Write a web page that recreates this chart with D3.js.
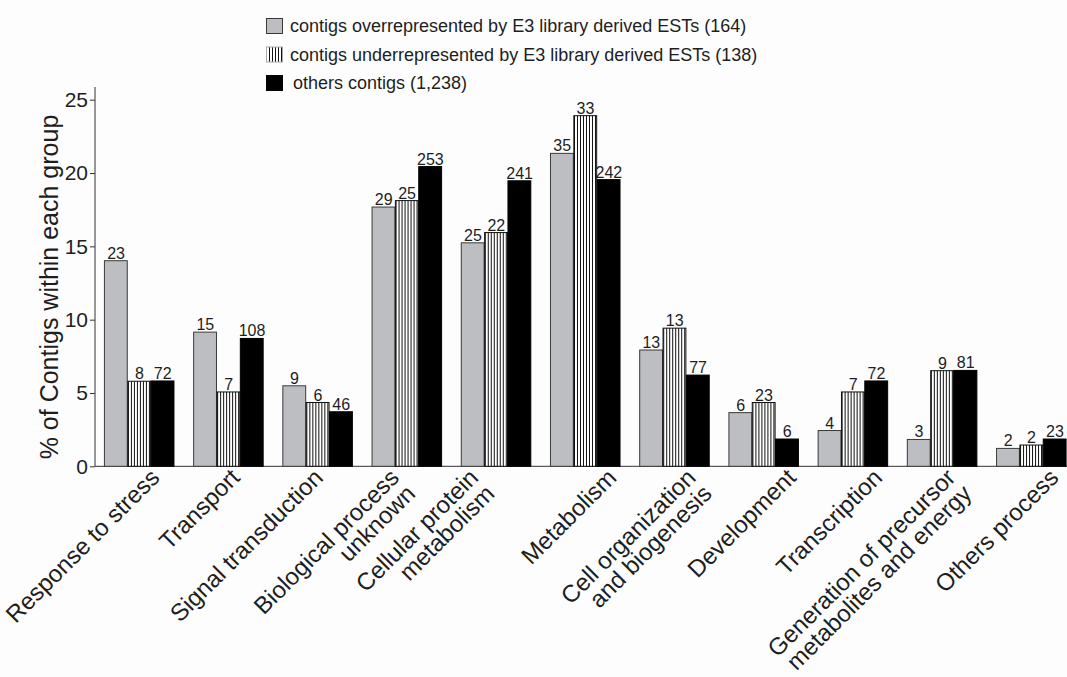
<!DOCTYPE html>
<html>
<head>
<meta charset="utf-8">
<script src="https://cdn.jsdelivr.net/npm/d3@7"></script>
<style>
  html, body { margin: 0; padding: 0; background: #fdfdfd; }
  svg { display: block; font-family: "Liberation Sans", Arial, sans-serif; }
</style>
</head>
<body>
<svg id="chart" width="1067" height="677"></svg>
<script>
// Biological process categories (x axis)
const categories = [
  "Response to stress",
  "Transport",
  "Signal transduction",
  "Biological process\nunknown",
  "Cellular protein\nmetabolism",
  "Metabolism",
  "Cell organization\nand biogenesis",
  "Development",
  "Transcription",
  "Generation of precursor\nmetabolites and energy",
  "Others process"
];

// Series names
const seriesNames = [
  "contigs overrepresented by E3 library derived ESTs (164)",
  "contigs underrepresented by E3 library derived ESTs (138)",
  "others contigs (1,238)"
];

// % of contigs within each group
const overPct  = [14.02, 9.15, 5.49, 17.68, 15.24, 21.34, 7.93, 3.66, 2.44, 1.83, 1.22];
const underPct = [5.80, 5.07, 4.35, 18.12, 15.94, 23.91, 9.42, 4.35, 5.07, 6.52, 1.45];
const otherPct = [5.82, 8.72, 3.72, 20.44, 19.47, 19.55, 6.22, 1.86, 5.82, 6.54, 1.86];

// Contig counts printed above the bars
const overCount  = [23, 15, 9, 29, 25, 35, 13, 6, 4, 3, 2];
const underCount = [8, 7, 6, 25, 22, 33, 13, 23, 7, 9, 2];
const otherCount = [72, 108, 46, 253, 241, 242, 77, 6, 72, 81, 23];

// Y axis ticks
const yTicks = [0, 5, 10, 15, 20, 25];

const svg = d3.select("#chart");
const textColor = "#1e1e1e";

// Fill pattern for the underrepresented series: thin vertical stripes
const defs = svg.append("defs");
const pat = defs.append("pattern")
  .attr("id", "vstripes")
  .attr("patternUnits", "userSpaceOnUse")
  .attr("width", 3).attr("height", 10);
pat.append("rect").attr("width", 3).attr("height", 10).attr("fill", "#ffffff");
pat.append("rect").attr("x", 0).attr("width", 1).attr("height", 10).attr("fill", "#111");

const fills = ["#bdbec2", "url(#vstripes)", "#000000"];
const strokes = ["#3a3a3a", "#111111", "#000000"];

const x0 = d3.scaleBand()
  .domain(categories)
  .range([95, 1075])
  .paddingInner(0.215)
  .paddingOuter(0.1);

const x1 = d3.scaleBand()
  .domain([0, 1, 2])
  .range([0, x0.bandwidth()])
  .padding(0);

const y = d3.scaleLinear().domain([0, 25]).range([466.3, 99.7]);

// Y axis
const yAxis = d3.axisLeft(y).tickValues(yTicks).tickSize(5).tickSizeOuter(0).tickPadding(2);
const gy = svg.append("g").attr("transform", "translate(95,0)").call(yAxis);
gy.select(".domain").remove();
gy.selectAll(".tick line").attr("stroke", "#333");
gy.selectAll(".tick text")
  .attr("font-size", 21)
  .attr("fill", textColor)
  .attr("font-family", "Liberation Sans, Arial, sans-serif");
gy.append("line")
  .attr("x1", 0).attr("x2", 0)
  .attr("y1", y(0)).attr("y2", 87)
  .attr("stroke", "#333").attr("stroke-width", 1);

// Baseline
svg.append("line")
  .attr("x1", 95).attr("x2", 1067)
  .attr("y1", y(0)).attr("y2", y(0))
  .attr("stroke", "#333").attr("stroke-width", 1);

// Y axis title
svg.append("text")
  .attr("transform", `translate(58,${(99.7 + 466.3) / 2 + 4}) rotate(-90)`)
  .attr("text-anchor", "middle")
  .attr("font-size", 25)
  .attr("fill", textColor)
  .text("% of Contigs within each group");

// Bars
const series = [
  { pct: overPct, count: overCount },
  { pct: underPct, count: underCount },
  { pct: otherPct, count: otherCount }
];

const groups = svg.append("g").selectAll("g")
  .data(categories)
  .join("g")
  .attr("transform", d => `translate(${x0(d)},0)`);

groups.each(function (cat, ci) {
  const g = d3.select(this);
  series.forEach((s, si) => {
    const v = s.pct[ci];
    g.append("rect")
      .attr("x", x1(si) + 0.5)
      .attr("y", y(v))
      .attr("width", x1.bandwidth() - 0.5)
      .attr("height", y(0) - y(v))
      .attr("fill", fills[si])
      .attr("stroke", strokes[si])
      .attr("stroke-width", 1);
    g.append("text")
      .attr("x", x1(si) + x1.bandwidth() / 2 + 0.5)
      .attr("y", y(v) - 2)
      .attr("text-anchor", "middle")
      .attr("font-size", 16)
      .attr("fill", textColor)
      .text(s.count[ci]);
  });
});

// Category labels, rotated 45 degrees
const labelShift = [22, 13, 7, -6, -16, 33, 23, 34, 31, 15, 29];
categories.forEach((cat, ci) => {
  const ax = x0(cat) + x0.bandwidth() / 2 + labelShift[ci];
  const ay = 479;
  const t = svg.append("text")
    .attr("transform", `translate(${ax},${ay}) rotate(-45)`)
    .attr("text-anchor", "end")
    .attr("font-size", 24)
    .attr("fill", textColor);
  cat.split("\n").forEach((line, li) => {
    t.append("tspan")
      .attr("x", 0)
      .attr("dy", li === 0 ? 0 : "0.95em")
      .text(line);
  });
});

// Legend
const legend = svg.append("g").attr("transform", "translate(266,18)");
seriesNames.forEach((name, i) => {
  const row = legend.append("g").attr("transform", `translate(0,${i * 28.5})`);
  row.append("rect")
    .attr("x", 0.5).attr("y", 0.5)
    .attr("width", 16).attr("height", 15)
    .attr("fill", fills[i])
    .attr("stroke", i === 1 ? "#aaa" : strokes[i])
    .attr("stroke-width", 1);
  row.append("text")
    .attr("x", i === 2 ? 27 : 24)
    .attr("y", 14)
    .attr("font-size", 18)
    .attr("fill", textColor)
    .text(name);
});
</script>
</body>
</html>
